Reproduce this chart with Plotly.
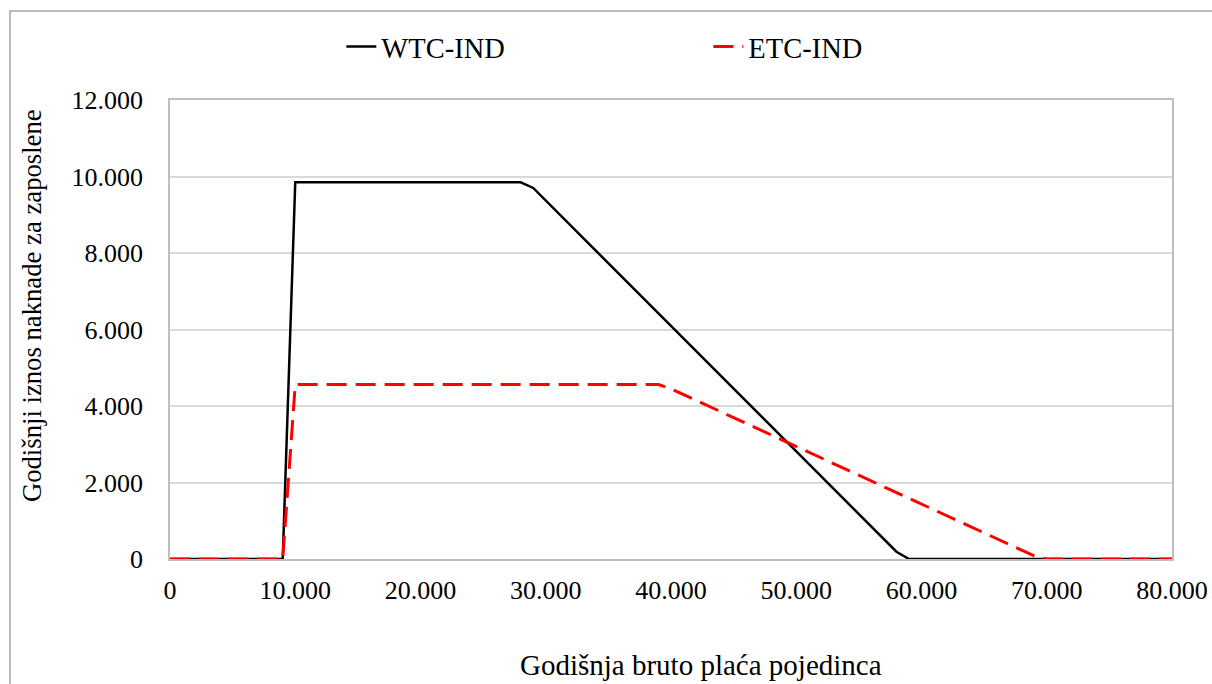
import plotly.graph_objects as go

# Annual gross wage of individual (kink points)
wtc_x = [0, 9000, 10000, 28000, 29000, 58000, 59000, 80000]
wtc_y = [0, 0, 9850, 9850, 9700, 190, 0, 0]

etc_x = [0, 9000, 10000, 39000, 40000, 69000, 70000, 80000]
etc_y = [0, 0, 4560, 4560, 4450, 80, 0, 0]

FONT = "Liberation Serif, Times New Roman, serif"
GRID = "#d9d9d9"
FRAME = "#bfbfbf"

fig = go.Figure()
fig.add_trace(go.Scatter(x=wtc_x, y=wtc_y, mode="lines", name="WTC-IND",
                         line=dict(color="black", width=2.5)))
fig.add_trace(go.Scatter(x=etc_x, y=etc_y, mode="lines", name="ETC-IND",
                         line=dict(color="#ff0000", width=3, dash="20px,9px")))

fig.update_layout(
    width=1212, height=684,
    paper_bgcolor="white", plot_bgcolor="white",
    font=dict(family=FONT, size=26, color="black"),
    separators=",.",
    margin=dict(l=170, r=40, t=100, b=125, autoexpand=False),
    showlegend=True,
    legend=dict(orientation="h", x=0.171, xanchor="left", y=1.1155, yanchor="middle",
                entrywidth=322, font=dict(family=FONT, size=28.5), bgcolor="rgba(0,0,0,0)"),
)

fig.update_xaxes(
    range=[0, 80000], dtick=10000, tickformat=",d",
    showgrid=False, zeroline=False,
    showline=True, linecolor=FRAME, linewidth=1.5, mirror=True,
    ticks="", ticklabelstandoff=7,
)
fig.update_yaxes(
    range=[0, 12000], dtick=2000, tickformat=",d",
    showgrid=True, gridcolor=GRID, gridwidth=1.5, zeroline=False,
    showline=True, linecolor=FRAME, linewidth=1.5, mirror=True,
    ticks="", ticklabelstandoff=20,
)

# axis titles (off-centre in the original, so placed as annotations)
fig.add_annotation(text="Godišnja bruto plaća pojedinca", xref="paper", yref="paper",
                   x=0.53, y=-0.231, showarrow=False, xanchor="center", yanchor="middle",
                   font=dict(family=FONT, size=29))
fig.add_annotation(text="Godišnji iznos naknade za zaposlene", xref="paper", yref="paper",
                   x=-0.1377, y=0.551, textangle=-90, showarrow=False,
                   xanchor="center", yanchor="middle", font=dict(family=FONT, size=26.7))

# outer chart-area frame
fig.add_shape(type="rect", xref="paper", yref="paper",
              x0=-0.1597, x1=1.08, y0=-0.35, y1=1.194,
              line=dict(color="#a6a6a6", width=1.5), fillcolor="rgba(0,0,0,0)", layer="below")

# drop the default page margin so the figure fills the window exactly
fig.write_html("out.html", config={"displayModeBar": False},
               post_script="document.body.style.margin='0';")
